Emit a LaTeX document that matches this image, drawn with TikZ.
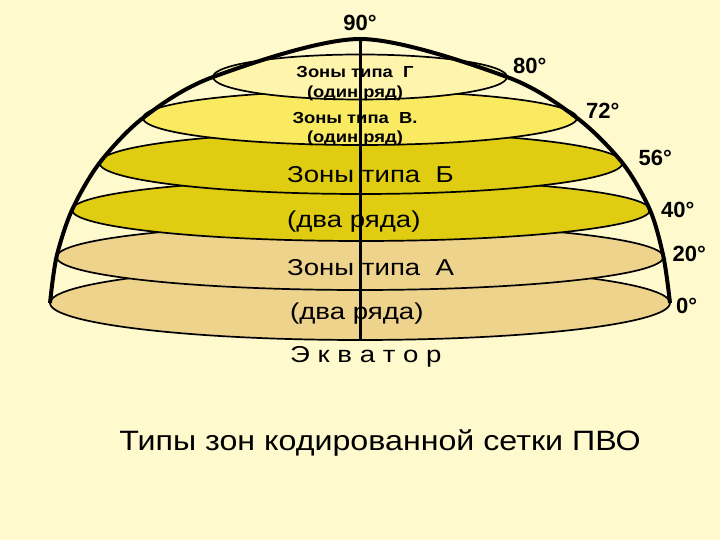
\documentclass[tikz,border=0pt]{standalone}
\usepackage{fontspec}
\setmainfont{Liberation Sans}
\usetikzlibrary{positioning,shapes.geometric}
\definecolor{bgcream}{RGB}{255,250,206}
\definecolor{zoneg}{RGB}{254,244,172}
\definecolor{zonev}{RGB}{250,234,98}
\definecolor{zoneb}{RGB}{224,205,18}
\definecolor{zonea}{RGB}{238,211,140}

\begin{document}
\begin{tikzpicture}[x=1pt,y=1pt,
	zone/.style={ellipse,draw=black,line width=1.7pt,inner sep=0pt,outer sep=0pt},
	deg/.style={font=\bfseries\fontsize{22}{22}\selectfont,inner sep=0pt},
	small/.style={font=\bfseries\fontsize{16}{16}\selectfont\addfontfeature{FakeStretch=1.15},inner sep=0pt},
	big/.style={font=\fontsize{23}{23}\selectfont\addfontfeature{FakeStretch=1.2},inner sep=0pt,anchor=west}]
	\fill[bgcream] (0,0) rectangle (720,540);
	\useasboundingbox (0,0) rectangle (720,540);
	% zones, lowest first
	\node[zone,fill=zonea,minimum width=620pt,minimum height=74pt] (e6) at (360,237) {};
	\node[zone,fill=zonea,minimum width=607pt,minimum height=66pt] (e5) at (360,283) {};
	\node[zone,fill=zoneb,minimum width=578pt,minimum height=62pt] (e4) at (361,330) {};
	\node[zone,fill=zoneb,minimum width=523pt,minimum height=62pt] (e3) at (361,377) {};
	\node[zone,fill=zonev,minimum width=434pt,minimum height=54pt] (e2) at (360,422) {};
	\node[zone,fill=zoneg,minimum width=294pt,minimum height=45pt] (e1) at (360,463) {};
	\coordinate (pole) at (360,501);
	
	\draw[line width=4pt,line join=round] plot[smooth] coordinates {(e6.west) (e5.west) (e4.west) (e3.west) (e2.west) (e1.west) (pole) (e1.east) (e2.east) (e3.east) (e4.east) (e5.east) (e6.east)};
	\draw[line width=3pt] (pole)--(e6.south);
	
	\node[small] (tg) at (355,468) {Зоны типа~ Г};
	\node[small] (tg2) at (355,447) {(один ряд)};
	\node[small] (tv) at (355,422) {Зоны типа~ В.};
	\node[small] (tv2) at (355,402) {(один ряд)};
	\node[big] (tb) at (287,365) {Зоны типа~ Б};
	\node[big] (tb2) at (287,318) {(два ряда)};
	\node[big] (ta) at (287,272) {Зоны типа~ А};
	\node[big] (ta2) at (290,226) {(два ряда)};
	\node[big] (eq) at (290,183) {Э к в а т о р};
	\node[font=\fontsize{28}{28}\selectfont\addfontfeature{FakeStretch=1.15}] (title) at (380,97) {Типы зон кодированной сетки ПВО};
	
	\node[deg,above=8pt of pole] (d90) {90°};
	\node[deg,anchor=south west,shift={(6pt,3pt)}] (d80) at (e1.east) {80°};
	\node[deg,anchor=south west,shift={(9pt,-1pt)}] (d72) at (e2.east) {72°};
	\node[deg,anchor=west,shift={(16pt,5pt)}] (d56) at (e3.east) {56°};
	\node[deg,anchor=west,shift={(11pt,0pt)}] (d40) at (e4.east) {40°};
	\node[deg,anchor=west,shift={(9pt,3pt)}] (d20) at (e5.east) {20°};
	\node[deg,anchor=west,shift={(6pt,-3pt)}] (d0) at (e6.east) {0°};
\end{tikzpicture}
\end{document}
